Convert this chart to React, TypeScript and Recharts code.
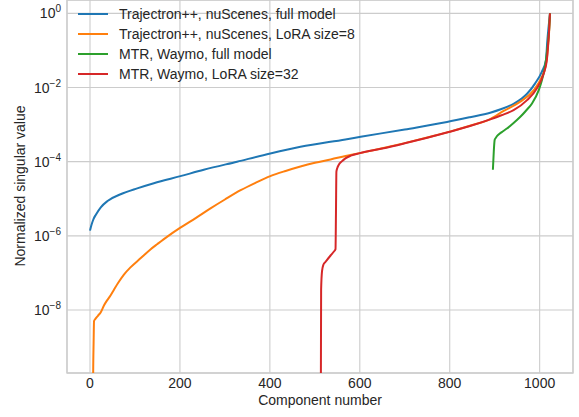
import React from "react";
import {
  CartesianGrid,
  Label,
  Legend,
  Line,
  LineChart,
  ReferenceArea,
  XAxis,
  YAxis,
} from "recharts";

// component index -> normalized singular value
const trajFullN = [0, 2, 5, 8, 13, 24, 39, 68, 105, 142, 201, 253, 327, 401, 468, 568, 602, 700, 794, 845, 890, 915, 942, 960, 972, 990, 1005, 1014, 1017, 1020, 1023];
const trajFullV = [1.38e-6, 1.74e-6, 2.29e-6, 2.88e-6, 3.72e-6, 5.89e-6, 8.71e-6, 1.32e-5, 1.91e-5, 2.63e-5, 4.07e-5, 6.03e-5, 1.0e-4, 1.66e-4, 2.51e-4, 3.98e-4, 4.68e-4, 7.41e-4, 1.17e-3, 1.58e-3, 2.09e-3, 2.63e-3, 3.63e-3, 5.01e-3, 6.76e-3, 1.29e-2, 2.69e-2, 5.5e-2, 0.178, 0.447, 1];

const trajLoraN = [6, 7, 8, 9, 12, 18, 24, 31, 38, 46, 53, 62, 75, 90, 113, 135, 150, 172, 201, 235, 268, 300, 335, 368, 401, 435, 468, 500, 535, 579, 600, 650, 700, 750, 800, 845, 890, 920, 957, 987, 1005, 1013, 1018, 1021, 1023];
const trajLoraV = [1e-13, 1.58e-10, 1.26e-9, 5.01e-9, 5.75e-9, 7.08e-9, 8.71e-9, 1.32e-8, 1.82e-8, 2.51e-8, 3.47e-8, 5.25e-8, 8.91e-8, 1.41e-7, 2.51e-7, 4.37e-7, 6.03e-7, 9.55e-7, 1.66e-6, 3.02e-6, 5.5e-6, 9.55e-6, 1.7e-5, 2.69e-5, 4.07e-5, 5.62e-5, 7.41e-5, 9.33e-5, 1.15e-4, 1.51e-4, 1.7e-4, 2.29e-4, 3.16e-4, 4.47e-4, 6.46e-4, 9.33e-4, 1.41e-3, 2.34e-3, 4.17e-3, 8.51e-3, 1.95e-2, 3.63e-2, 0.1, 0.316, 1];

const mtrFullN = [896, 898, 900, 903, 906, 915, 928, 942, 957, 970, 983, 998, 1005, 1010, 1014, 1018, 1021, 1023];
const mtrFullV = [6.03e-5, 1.91e-4, 3.89e-4, 4.47e-4, 5.01e-4, 6.17e-4, 7.94e-4, 1.1e-3, 1.62e-3, 2.4e-3, 3.72e-3, 8.51e-3, 1.58e-2, 2.82e-2, 5.5e-2, 0.141, 0.355, 1];

const mtrLoraN = [513, 514, 516, 519, 524, 535, 542, 546, 547, 548, 550, 553, 560, 568, 580, 600, 650, 700, 750, 800, 845, 890, 915, 942, 972, 994, 1009, 1016, 1019, 1021, 1023];
const mtrLoraV = [1e-12, 3.55e-8, 1.12e-7, 1.66e-7, 2.0e-7, 2.95e-7, 3.72e-7, 4.37e-7, 3.98e-6, 5.37e-5, 6.76e-5, 8.13e-5, 1.02e-4, 1.23e-4, 1.45e-4, 1.7e-4, 2.26e-4, 3.13e-4, 4.42e-4, 6.38e-4, 9.12e-4, 1.38e-3, 1.78e-3, 2.45e-3, 4.57e-3, 9.55e-3, 2.4e-2, 5.5e-2, 0.158, 0.355, 1];

const xTicks = [0, 200, 400, 600, 800, 1000];
const yTicks = [1, 1e-2, 1e-4, 1e-6, 1e-8];

const zip = (n: number[], v: number[]) => n.map((x, i) => ({ n: x, v: v[i] }));

const series = [
  { name: "Trajectron++, nuScenes, full model", color: "#1f77b4", data: zip(trajFullN, trajFullV) },
  { name: "Trajectron++, nuScenes, LoRA size=8", color: "#ff7f0e", data: zip(trajLoraN, trajLoraV) },
  { name: "MTR, Waymo, full model", color: "#2ca02c", data: zip(mtrFullN, mtrFullV) },
  { name: "MTR, Waymo, LoRA size=32", color: "#d62728", data: zip(mtrLoraN, mtrLoraV) },
];

const FONT = "'Liberation Sans', Arial, sans-serif";
const TEXT = "#262626";
const GRID = "#cccccc";
const X_DOMAIN: [number, number] = [-51.15, 1074.15];
const Y_DOMAIN: [number, number] = [2.0e-10, 2.29];

function PowTick(props: any) {
  const { x, y, payload } = props;
  const exp = Math.round(Math.log10(payload.value));
  const label = exp < 0 ? `\u2212${-exp}` : String(exp);
  return (
    <text x={x} y={y} dy={5} textAnchor="end" fill={TEXT} fontSize={14} fontFamily={FONT}>
      <tspan>10</tspan>
      <tspan dy={-6} fontSize={10}>
        {label}
      </tspan>
    </text>
  );
}

function LegendBox() {
  return (
    <div style={{ fontFamily: FONT, fontSize: 14, color: TEXT }}>
      {series.map((s) => (
        <div key={s.name} style={{ display: "flex", alignItems: "center", height: 20 }}>
          <div style={{ width: 30, height: 2, background: s.color, marginRight: 11 }} />
          <span style={{ whiteSpace: "nowrap" }}>{s.name}</span>
        </div>
      ))}
    </div>
  );
}

export default function App() {
  return (
    <div style={{ position: "absolute", left: 0, top: 0, width: 579, height: 417, background: "#fff" }}>
      <LineChart width={579} height={417} margin={{ top: 0, right: 6, bottom: 0, left: 0 }}>
        <CartesianGrid stroke={GRID} strokeWidth={1.1} />
        <XAxis
          dataKey="n"
          type="number"
          domain={X_DOMAIN}
          allowDataOverflow
          ticks={xTicks}
          height={44}
          tickLine={false}
          axisLine={false}
          tickSize={0}
          tickMargin={5}
          tick={{ fill: TEXT, fontSize: 14, fontFamily: FONT }}
        >
          <Label
            content={() => (
              <text x={320} y={405} textAnchor="middle" fill={TEXT} fontSize={14} fontFamily={FONT}>
                Component number
              </text>
            )}
          />
        </XAxis>
        <YAxis
          type="number"
          scale="log"
          domain={Y_DOMAIN}
          allowDataOverflow
          ticks={yTicks}
          width={67}
          tickLine={false}
          axisLine={false}
          tickSize={0}
          tickMargin={6}
          tick={<PowTick />}
        >
          <Label
            content={() => (
              <text
                x={25}
                y={186}
                transform="rotate(-90 25 186)"
                textAnchor="middle"
                fill={TEXT}
                fontSize={14}
                fontFamily={FONT}
              >
                Normalized singular value
              </text>
            )}
          />
        </YAxis>
        <ReferenceArea
          x1={X_DOMAIN[0]}
          x2={X_DOMAIN[1]}
          y1={Y_DOMAIN[0]}
          y2={Y_DOMAIN[1]}
          fill="none"
          fillOpacity={0}
          stroke={GRID}
          strokeWidth={1.3}
        />
        {series.map((s) => (
          <Line
            key={s.name}
            data={s.data}
            dataKey="v"
            name={s.name}
            type="monotone"
            stroke={s.color}
            strokeWidth={2}
            dot={false}
            isAnimationActive={false}
          />
        ))}
        <Legend
          layout="horizontal"
          verticalAlign="middle"
          align="center"
          content={() => <LegendBox />}
          wrapperStyle={{ left: 78, top: 4, width: "auto" }}
        />
      </LineChart>
    </div>
  );
}
